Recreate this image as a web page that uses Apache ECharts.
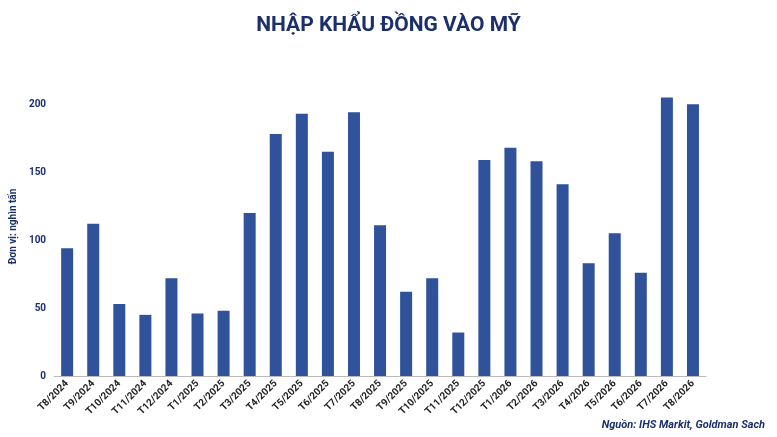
<!DOCTYPE html>
<html>
<head>
<meta charset="utf-8">
<script src="https://cdn.jsdelivr.net/npm/echarts@6/dist/echarts.min.js"></script>
<style>
  html, body { margin: 0; padding: 0; background: #fff; }
  #chart { width: 777px; height: 437px; }
</style>
</head>
<body>
<div id="chart"></div>
<script>
// tháng
var categories = ['T8/2024', 'T9/2024', 'T10/2024', 'T11/2024', 'T12/2024', 'T1/2025', 'T2/2025', 'T3/2025',
    'T4/2025', 'T5/2025', 'T6/2025', 'T7/2025', 'T8/2025', 'T9/2025', 'T10/2025', 'T11/2025', 'T12/2025',
    'T1/2026', 'T2/2026', 'T3/2026', 'T4/2026', 'T5/2026', 'T6/2026', 'T7/2026', 'T8/2026'];
// nghìn tấn
var imports = [94, 112, 53, 45, 72, 46, 48, 120, 178, 193, 165, 194, 111, 62, 72, 32, 159,
    168, 158, 141, 83, 105, 76, 205, 200];

var chart = echarts.init(document.getElementById('chart'));
var navy = '#1b2f6b';

var option = {
    animation: false,
    title: {
        text: 'NHẬP KHẨU ĐỒNG VÀO MỸ',
        left: 'center',
        top: 10,
        textStyle: { color: navy, fontSize: 21, fontWeight: 'bold', fontFamily: 'Roboto' }
    },
    graphic: [{
        type: 'text',
        right: 12,
        bottom: 6,
        style: {
            text: 'Nguồn: IHS Markit, Goldman Sach',
            fill: navy,
            font: 'italic bold 11px Roboto'
        }
    }],
    grid: { left: 49, right: 71, top: 77, bottom: 61 },
    xAxis: {
        type: 'category',
        data: categories,
        axisLine: { lineStyle: { color: '#bbb' } },
        axisTick: { show: false },
        axisLabel: {
            rotate: 45, interval: 0, color: '#222', fontWeight: 'bold',
            fontSize: 10, fontFamily: 'Roboto', margin: 6
        }
    },
    yAxis: {
        type: 'value',
        min: 0,
        max: 220,
        interval: 50,
        name: 'Đơn vị: nghìn tấn',
        nameLocation: 'middle',
        nameGap: 30,
        nameTextStyle: { color: navy, fontSize: 10, fontWeight: 'bold', fontFamily: 'Roboto' },
        splitLine: { show: false },
        axisLine: { show: false },
        axisTick: { show: false },
        axisLabel: { color: navy, fontWeight: 'bold', fontSize: 10, fontFamily: 'Roboto', showMaxLabel: false }
    },
    series: [{
        type: 'bar',
        data: imports,
        barWidth: 12,
        itemStyle: { color: '#2f529b' }
    }]
};

chart.setOption(option);
</script>
</body>
</html>
